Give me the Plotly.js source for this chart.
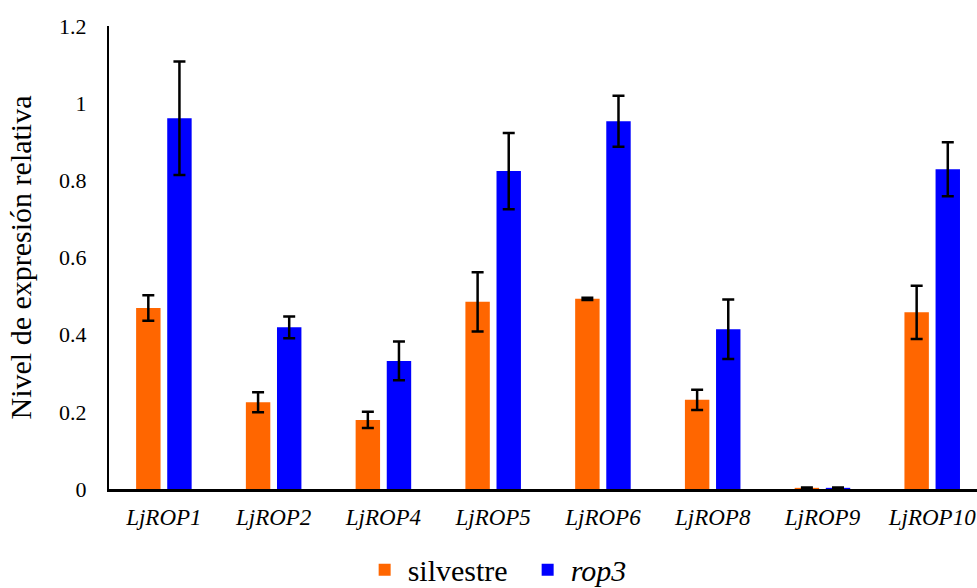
<!DOCTYPE html>
<html>
<head>
<meta charset="utf-8">
<script src="https://cdn.plot.ly/plotly-3.0.1.min.js"></script>
<style>html,body{margin:0;padding:0;background:#fff;overflow:hidden}</style>
</head>
<body>
<div id="chart" style="width:977px;height:588px"></div>
<script>
const categories = ["LjROP1","LjROP2","LjROP4","LjROP5","LjROP6","LjROP8","LjROP9","LjROP10"];
const silvestre = [0.469, 0.225, 0.179, 0.485, 0.493, 0.231, 0.003, 0.458];
const silvestreErr = [0.033, 0.026, 0.021, 0.077, 0.003, 0.026, 0.001, 0.069];
const rop3 = [0.961, 0.419, 0.332, 0.824, 0.953, 0.414, 0.003, 0.829];
const rop3Err = [0.147, 0.028, 0.050, 0.099, 0.066, 0.077, 0.001, 0.070];
const yTicks = [0, 0.2, 0.4, 0.6, 0.8, 1, 1.2];
const yTickText = ["0", "0.2", "0.4", "0.6", "0.8", "1", "1.2"];

const font = "Liberation Serif";
const errStyle = {type: "data", visible: true, color: "#000", thickness: 2.5, width: 6};

const traces = [
  {type: "bar", x: categories, y: silvestre, name: "silvestre",
   marker: {color: "#FF6600"},
   error_y: Object.assign({array: silvestreErr}, errStyle)},
  {type: "bar", x: categories, y: rop3, name: "<i>rop3</i>",
   marker: {color: "#0000FF"},
   error_y: Object.assign({array: rop3Err}, errStyle)}
];

const layout = {
  width: 977, height: 588,
  margin: {l: 109, r: 0, t: 26, b: 99},
  paper_bgcolor: "#fff", plot_bgcolor: "#fff",
  font: {family: font, color: "#000"},
  barmode: "group", bargap: 0.433, bargroupgap: 0.215,
  showlegend: true,
  legend: {orientation: "h", xref: "container", yref: "container",
           x: 0.537, xanchor: "center", y: 0.031, yanchor: "middle",
           entrywidth: 112, entrywidthmode: "pixels", itemwidth: 36,
           font: {size: 30, family: font}, traceorder: "normal"},
  xaxis: {
    type: "category", range: [-0.5, 7.408], automargin: false,
    tickvals: categories, ticktext: categories.map(c => "<i>" + c + "</i>"),
    tickfont: {size: 23, family: font},
    showline: true, linecolor: "#000", linewidth: 3,
    ticks: "outside", ticklen: 5, tickcolor: "rgba(0,0,0,0)",
    showgrid: false, zeroline: false
  },
  yaxis: {
    range: [0, 1.2], tickvals: yTicks, ticktext: yTickText, automargin: false,
    tickfont: {size: 22, family: font},
    showline: true, linecolor: "#000", linewidth: 2,
    ticks: "outside", ticklen: 16, tickcolor: "rgba(0,0,0,0)",
    showgrid: false, zeroline: false,
    title: {text: "Nivel de expresión relativa", font: {size: 30, family: font}, standoff: 19}
  }
};

Plotly.newPlot("chart", traces, layout, {staticPlot: true, displayModeBar: false});
</script>
</body>
</html>
